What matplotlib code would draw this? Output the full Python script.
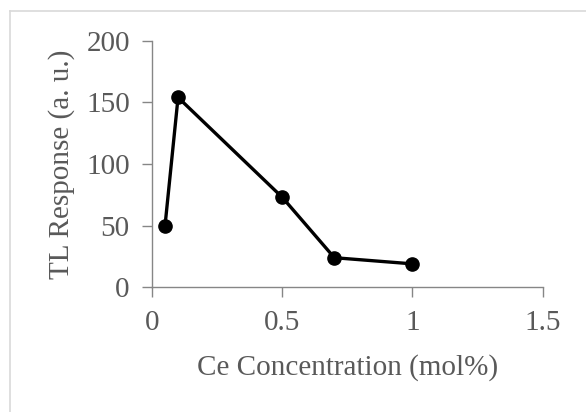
import matplotlib
matplotlib.use('Agg')
import matplotlib.pyplot as plt
from matplotlib.lines import Line2D

# Ce doping series
ce_conc = [0.05, 0.1, 0.5, 0.7, 1.0]
tl_response = [50, 154, 73, 24, 19]
x_ticks = [0, 0.5, 1, 1.5]
x_tick_labels = ['0', '0.5', '1', '1.5']
y_ticks = [0, 50, 100, 150, 200]

text_grey = '#595959'
axis_grey = '#868686'

plt.rcParams['font.family'] = ['Liberation Serif', 'DejaVu Serif']
plt.rcParams['font.size'] = 21

fig = plt.figure(figsize=(5.86, 4.12), dpi=100)
ax = fig.add_axes([0.2594, 0.3027, 0.6667, 0.5985])

ax.plot(ce_conc, tl_response, color='black', linewidth=2.4,
        marker='o', markersize=9.5, markerfacecolor='black', markeredgecolor='black')

ax.set_xlim(0, 1.5)
ax.set_ylim(0, 200)
ax.set_xticks(x_ticks)
ax.set_xticklabels(x_tick_labels)
ax.set_yticks(y_ticks)

for side in ['top', 'right']:
    ax.spines[side].set_visible(False)
for side in ['left', 'bottom']:
    ax.spines[side].set_color(axis_grey)
    ax.spines[side].set_linewidth(1.0)

ax.tick_params(direction='out', length=7, width=1.0, color=axis_grey,
               labelcolor=text_grey, labelsize=21, pad=9)

ax.set_xlabel('Ce Concentration (mol%)', color=text_grey, fontsize=21, labelpad=13)
ax.set_ylabel('TL Response (a. u.)', color=text_grey, fontsize=21, labelpad=8)

# light frame around the chart area (only top and left visible in the crop)
fig.add_artist(Line2D([10/586, 10/586], [0, 1 - 11/412], transform=fig.transFigure,
                      color='#d9d9d9', linewidth=1.2))
fig.add_artist(Line2D([10/586, 1], [1 - 11/412, 1 - 11/412], transform=fig.transFigure,
                      color='#d9d9d9', linewidth=1.2))

fig.savefig('out.png', dpi=100)
